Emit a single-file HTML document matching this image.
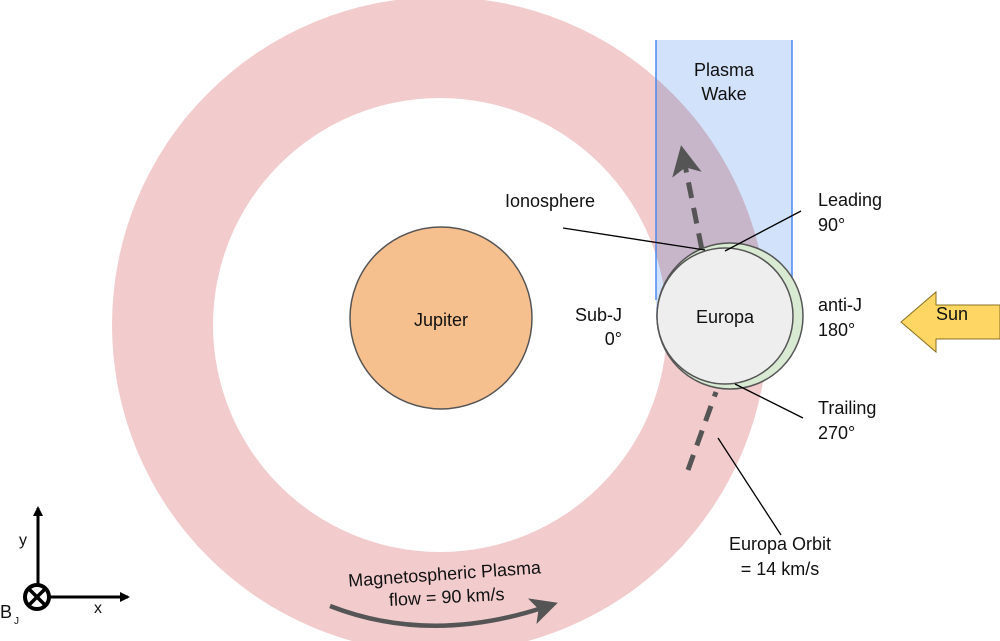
<!DOCTYPE html>
<html><head><style>body{margin:0;background:#fff}svg{display:block}text{font-family:"Liberation Sans",sans-serif;fill:#111}</style></head><body>
<svg width="1000" height="641" viewBox="0 0 1000 641" xmlns="http://www.w3.org/2000/svg">
<defs><marker id="ah" markerWidth="6" markerHeight="6" refX="3" refY="3" orient="auto" markerUnits="strokeWidth"><path d="M0,0 L6,3 L0,6 L1.5,3z" fill="#555"/></marker>
<marker id="bk" markerWidth="10" markerHeight="10" refX="8" refY="5" orient="auto" markerUnits="userSpaceOnUse"><path d="M0,0 L10,5 L0,10z" fill="#000"/></marker></defs>
<circle cx="440" cy="325" r="328" fill="#f2cccd"/>
<circle cx="440" cy="325" r="227" fill="#fff"/>
<rect x="656" y="40" width="136" height="280" fill="#d2e2fa" style="mix-blend-mode:multiply"/>
<line x1="656" y1="40" x2="656" y2="300" stroke="#4a8af0" stroke-width="1.5"/>
<line x1="792" y1="40" x2="792" y2="320" stroke="#4a8af0" stroke-width="1.5"/>
<text x="724" y="76" font-size="18" text-anchor="middle">Plasma</text>
<text x="724" y="100" font-size="18" text-anchor="middle">Wake</text>
<circle cx="441" cy="318" r="91" fill="#f6c08e" stroke="#555" stroke-width="1.5"/>
<text x="441" y="326" font-size="18" text-anchor="middle">Jupiter</text>
<path d="M688,470 L716,392" stroke="#555" stroke-width="5" stroke-dasharray="16,10" fill="none"/>
<path d="M712,300 L684,160" stroke="#555" stroke-width="5" stroke-dasharray="16,10" fill="none" marker-end="url(#ah)"/>
<circle cx="730" cy="316" r="73" fill="#d9ead3" stroke="#555" stroke-width="1.5"/>
<circle cx="725" cy="316" r="68" fill="#eeeeee" stroke="#555" stroke-width="1.5"/>
<text x="725" y="323" font-size="18" text-anchor="middle">Europa</text>
<g stroke="#000" stroke-width="1.3">
<line x1="563" y1="228" x2="705" y2="250"/>
<line x1="801" y1="211" x2="725" y2="251"/>
<line x1="735" y1="384" x2="803" y2="418"/>
<line x1="718" y1="438" x2="781" y2="535"/>
</g>
<g font-size="18">
<text x="505" y="207">Ionosphere</text>
<text x="818" y="206">Leading</text><text x="818" y="231">90°</text>
<text x="622" y="321" text-anchor="end">Sub-J</text><text x="622" y="345" text-anchor="end">0°</text>
<text x="818" y="311">anti-J</text><text x="818" y="336">180°</text>
<text x="818" y="414">Trailing</text><text x="818" y="439">270°</text>
<text x="780" y="550" text-anchor="middle">Europa Orbit</text><text x="780" y="575" text-anchor="middle">= 14 km/s</text>
</g>
<path d="M901,322 L936,292 L936,305 L1000,305 L1000,339 L936,339 L936,352 Z" fill="#fdd663" stroke="#8a7020" stroke-width="1"/>
<text x="952" y="320" font-size="18" text-anchor="middle">Sun</text>
<g font-size="18" text-anchor="middle">
<text x="445" y="580" transform="rotate(-4 445 580)">Magnetospheric Plasma</text>
<text x="447" y="603" transform="rotate(-3 447 603)">flow = 90 km/s</text>
</g>
<path d="M330,606 Q430,645 545,607" stroke="#555" stroke-width="4.5" fill="none" marker-end="url(#ah)"/>
<line x1="38" y1="585" x2="38" y2="508" stroke="#000" stroke-width="3" marker-end="url(#bk)"/>
<line x1="50" y1="597" x2="128" y2="597" stroke="#000" stroke-width="3" marker-end="url(#bk)"/>
<circle cx="37" cy="597" r="12" fill="#fff" stroke="#000" stroke-width="4"/>
<line x1="29" y1="589" x2="45" y2="605" stroke="#000" stroke-width="3.5"/>
<line x1="45" y1="589" x2="29" y2="605" stroke="#000" stroke-width="3.5"/>
<text x="19" y="545" font-size="16">y</text>
<text x="94" y="613" font-size="16">x</text>
<text x="0" y="618" font-size="18">B</text><text x="14" y="624" font-size="10">J</text>
</svg>
</body></html>
